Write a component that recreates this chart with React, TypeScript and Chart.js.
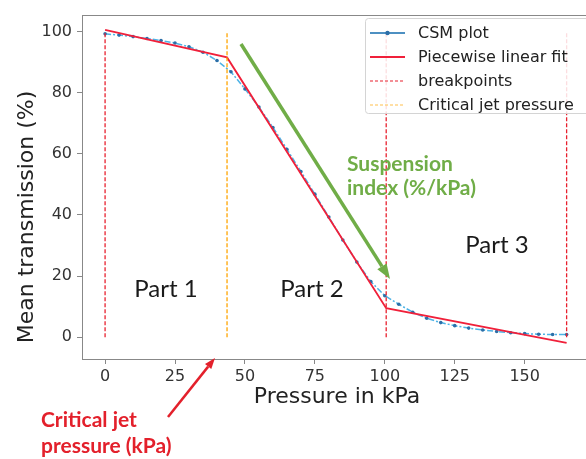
import { useEffect, useRef } from 'react';
import { Chart, registerables } from 'chart.js';

Chart.register(...registerables);

// ---- data ----
const pressure = [0, 5, 10, 15, 20, 25, 30, 35, 40, 45, 50, 55, 60, 65, 70, 75, 80, 85, 90, 95, 100, 105, 110, 115, 120, 125, 130, 135, 140, 145, 150, 155, 160, 165];
const csmTransmission = [99.2, 98.8, 98.3, 97.7, 97.0, 96.2, 95.0, 93.2, 90.5, 86.8, 81.2, 75.3, 68.6, 61.5, 54.2, 46.8, 39.3, 31.8, 24.6, 18.2, 13.6, 10.8, 8.2, 6.2, 4.8, 3.8, 3.0, 2.4, 1.9, 1.5, 1.2, 1.0, 0.9, 0.9];
const fitPressure = [0, 43.6, 100.5, 165];
const fitTransmission = [100.5, 91.5, 9.5, -1.8];
const breakpoints = [0, 100.5, 165];
const criticalJetPressure = 43.6;
const vlineRange = [0, 100];
const xTicks = [0, 25, 50, 75, 100, 125, 150];
const yTicks = [0, 20, 40, 60, 80, 100];
const legendLabels = ['CSM plot', 'Piecewise linear fit', 'breakpoints', 'Critical jet pressure'];
const partLabels = ['Part 1', 'Part 2', 'Part 3'];

const C_CSM_LINE = '#4db3e6';
const C_CSM_PT = '#2c6fa8';
const C_FIT = '#f0203a';
const C_BP = '#e8202e';
const C_CJ = '#ffa500';

function drawArrow(ctx: CanvasRenderingContext2D, x1: number, y1: number, x2: number, y2: number, color: string, w: number, hl: number, hw: number) {
  const ang = Math.atan2(y2 - y1, x2 - x1);
  const bx = x2 - hl * Math.cos(ang);
  const by = y2 - hl * Math.sin(ang);
  ctx.save();
  ctx.strokeStyle = color;
  ctx.fillStyle = color;
  ctx.lineWidth = w;
  ctx.lineCap = 'butt';
  ctx.beginPath();
  ctx.moveTo(x1, y1);
  ctx.lineTo(bx, by);
  ctx.stroke();
  ctx.beginPath();
  ctx.moveTo(x2, y2);
  ctx.lineTo(bx + (hw / 2) * Math.sin(ang), by - (hw / 2) * Math.cos(ang));
  ctx.lineTo(bx - (hw / 2) * Math.sin(ang), by + (hw / 2) * Math.cos(ang));
  ctx.closePath();
  ctx.fill();
  ctx.restore();
}

const overlayPlugin = {
  id: 'overlay',
  afterDraw(chart: any) {
    const ctx: CanvasRenderingContext2D = chart.ctx;
    const ca = chart.chartArea;
    const xs = chart.scales.x;
    const ys = chart.scales.y;
    ctx.save();
    // frame
    ctx.strokeStyle = '#888';
    ctx.lineWidth = 1;
    ctx.strokeRect(Math.round(ca.left) + 0.5, Math.round(ca.top) + 0.5, 600, Math.round(ca.bottom - ca.top));

    // axis titles
    ctx.fillStyle = '#222';
    ctx.font = '22px "DejaVu Sans"';
    ctx.textAlign = 'center';
    ctx.textBaseline = 'alphabetic';
    ctx.fillText('Pressure in kPa', 337, 403);
    ctx.save();
    ctx.translate(27, 217);
    ctx.rotate(-Math.PI / 2);
    ctx.textBaseline = 'middle';
    ctx.fillText('Mean transmission (%)', 0, 0);
    ctx.restore();

    // legend
    const lx = 365, ly = 18, lw = 240, lh = 95;
    ctx.fillStyle = 'rgba(255,255,255,0.85)';
    ctx.strokeStyle = '#d4d4d4';
    ctx.lineWidth = 1;
    ctx.beginPath();
    ctx.roundRect(lx + 0.5, ly + 0.5, lw, lh, 3);
    ctx.fill();
    ctx.stroke();
    const rows = [33, 57, 81, 105];
    const hx1 = 370, hx2 = 405;
    // CSM handle
    ctx.strokeStyle = C_CSM_LINE;
    ctx.lineWidth = 1.5;
    ctx.setLineDash([]);
    ctx.beginPath(); ctx.moveTo(hx1, rows[0]); ctx.lineTo(hx2, rows[0]); ctx.stroke();
    ctx.strokeStyle = '#3f7fb5';
    ctx.beginPath(); ctx.moveTo(hx1, rows[0]); ctx.lineTo(hx2, rows[0]); ctx.stroke();
    ctx.fillStyle = C_CSM_PT;
    ctx.beginPath(); ctx.arc((hx1 + hx2) / 2, rows[0], 2.2, 0, Math.PI * 2); ctx.fill();
    // fit handle
    ctx.strokeStyle = C_FIT; ctx.lineWidth = 2;
    ctx.beginPath(); ctx.moveTo(hx1, rows[1]); ctx.lineTo(hx2, rows[1]); ctx.stroke();
    // bp handle
    ctx.strokeStyle = C_BP; ctx.lineWidth = 1.2; ctx.setLineDash([3, 2]);
    ctx.beginPath(); ctx.moveTo(hx1, rows[2]); ctx.lineTo(hx2, rows[2]); ctx.stroke();
    ctx.strokeStyle = '#ffc04d';
    ctx.beginPath(); ctx.moveTo(hx1, rows[3]); ctx.lineTo(hx2, rows[3]); ctx.stroke();
    ctx.setLineDash([]);
    ctx.fillStyle = '#222';
    ctx.font = '16px "DejaVu Sans"';
    ctx.textAlign = 'left';
    ctx.textBaseline = 'middle';
    legendLabels.forEach((t, i) => ctx.fillText(t, 418, rows[i] + 1));

    // part labels
    ctx.font = '24px Lato';
    ctx.fillStyle = '#1a1a1a';
    ctx.textAlign = 'center';
    ctx.textBaseline = 'alphabetic';
    ctx.fillText(partLabels[0], 166, 297);
    ctx.fillText(partLabels[1], 312, 297);
    ctx.fillText(partLabels[2], 497, 253);

    // suspension arrow + text
    drawArrow(ctx, 241, 44, 390, 279, '#70ad47', 3.5, 15, 11);
    ctx.font = 'bold 21px Lato';
    ctx.fillStyle = '#70ad47';
    ctx.textAlign = 'left';
    ctx.fillText('Suspension', 347, 171);
    ctx.fillText('index (%/kPa)', 347, 195);

    // critical jet arrow + text
    drawArrow(ctx, 168, 417, 215, 358, '#e3202b', 2.5, 11, 8);
    ctx.font = 'bold 21px Lato';
    ctx.fillStyle = '#e3202b';
    ctx.fillText('Critical jet', 41, 427);
    ctx.fillText('pressure (kPa)', 41, 453);
    ctx.restore();
    void xs; void ys;
  },
};

export default function App() {
  const ref = useRef<HTMLCanvasElement | null>(null);
  useEffect(() => {
    const canvas = ref.current;
    if (!canvas) return;
    const vline = (x: number, color: string) => ({
      data: [{ x, y: vlineRange[0] }, { x, y: vlineRange[1] }],
      borderColor: color,
      borderWidth: 1.3,
      borderDash: [4, 2],
      pointRadius: 0,
      showLine: true,
    });
    const chart = new Chart(canvas, {
      type: 'scatter',
      data: {
        datasets: [
          ...breakpoints.map((b) => vline(b, C_BP)),
          vline(criticalJetPressure, C_CJ),
          {
            data: fitPressure.map((x, i) => ({ x, y: fitTransmission[i] })),
            borderColor: C_FIT,
            borderWidth: 1.8,
            pointRadius: 0,
            showLine: true,
          },
          {
            data: pressure.map((x, i) => ({ x, y: csmTransmission[i] })),
            borderColor: C_CSM_LINE,
            borderWidth: 1.5,
            borderDash: [6, 2, 2, 2],
            pointRadius: 1.8,
            pointBackgroundColor: C_CSM_PT,
            pointBorderWidth: 0,
            showLine: true,
          },
        ] as any,
      },
      options: {
        responsive: false,
        animation: false,
        devicePixelRatio: 1,
        layout: { padding: { top: 10, left: 0, right: 0, bottom: 0 } },
        plugins: { legend: { display: false }, tooltip: { enabled: false } },
        scales: {
          x: {
            type: 'linear',
            min: -8.25,
            max: 170.5,
            afterBuildTicks: (s: any) => { s.ticks = xTicks.map((v) => ({ value: v })); },
            afterFit: (s: any) => { s.height = 100; },
            ticks: { font: { family: 'DejaVu Sans', size: 16 }, color: '#333', padding: 3, maxRotation: 0, autoSkip: false },
            grid: { drawOnChartArea: false, tickLength: 5, color: '#888' },
            border: { display: false },
          },
          y: {
            type: 'linear',
            min: -7.1,
            max: 105.5,
            afterBuildTicks: (s: any) => { s.ticks = yTicks.map((v) => ({ value: v })); },
            afterFit: (s: any) => { s.width = 82; },
            ticks: { font: { family: 'DejaVu Sans', size: 16 }, color: '#333', padding: 5, autoSkip: false },
            grid: { drawOnChartArea: false, tickLength: 5, color: '#888' },
            border: { display: false },
          },
        },
      } as any,
      plugins: [overlayPlugin],
    });
    const fonts = ['16px "DejaVu Sans"', '22px "DejaVu Sans"', '24px Lato', 'bold 21px Lato'];
    Promise.all(fonts.map((f) => (document as any).fonts.load(f))).then(() => { try { chart.update(); } catch (e) { /* ignore */ } });
    return () => chart.destroy();
  }, []);
  return (
    <div style={{ position: 'absolute', left: 0, top: 0, width: 586, height: 459, background: '#fff' }}>
      <canvas ref={ref} width={586} height={459} style={{ width: 586, height: 459, display: 'block' }} />
    </div>
  );
}
